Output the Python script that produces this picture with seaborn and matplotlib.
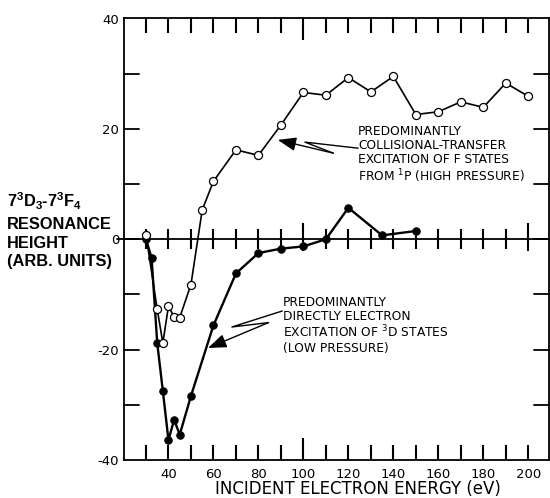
import matplotlib
matplotlib.use("Agg")
import matplotlib.pyplot as plt
import matplotlib.transforms as mtransforms
from matplotlib.ticker import FixedLocator, FuncFormatter
import seaborn as sns

# ---------------- data ----------------
open_energy = [30, 35, 37.5, 40, 42.5, 45, 50, 55, 60, 70, 80, 90, 100, 110,
               120, 130, 140, 150, 160, 170, 180, 190, 200]
open_height = [0.8, -12.7, -18.8, -12.1, -14.1, -14.2, -8.2, 5.3, 10.5, 16.2,
               15.2, 20.7, 26.6, 26.1, 29.3, 26.7, 29.5, 22.6, 23.1, 24.9,
               23.9, 28.3, 25.9]

filled_energy = [30, 32.5, 35, 37.5, 40, 42.5, 45, 50, 60, 70, 80, 90, 100,
                 110, 120, 135, 150]
filled_height = [0, -3.4, -18.8, -27.5, -36.4, -32.7, -35.4, -28.4, -15.6,
                 -6.2, -2.5, -1.7, -1.3, 0, 5.7, 0.7, 1.5]

x_tick_values = list(range(30, 201, 10))
x_tick_labels = [40, 60, 80, 100, 120, 140, 160, 180, 200]
x_long_ticks = [100, 200]
y_tick_values = list(range(-30, 31, 10))
y_tick_labels = [-40, -20, 0, 20, 40]

x_label = "INCIDENT ELECTRON ENERGY (eV)"
y_label_lines = [r"7$^{3}$D$_{3}$-7$^{3}$F$_{4}$", "RESONANCE", "HEIGHT",
                 "(ARB. UNITS)"]

high_text = ("PREDOMINANTLY\nCOLLISIONAL-TRANSFER\nEXCITATION OF F STATES\n"
             "FROM $^{1}$P (HIGH PRESSURE)")
low_text = ("PREDOMINANTLY\nDIRECTLY ELECTRON\nEXCITATION OF $^{3}$D STATES\n"
            "(LOW PRESSURE)")

# annotation geometry (text anchor, zig-zag leader, arrow tip)
high_text_pos = (124.3, 20.7)
high_leader = [(124.3, 16.5), (100.7, 17.6), (113.3, 15.6)]
high_tip = (88.6, 18.0)
low_text_pos = (91.0, -10.2)
low_leader = [(90.6, -13.0), (68.2, -15.9), (84.5, -15.1)]
low_tip = (57.6, -19.7)

# ---------------- style ----------------
sns.set_style("white")
plt.rcParams["font.family"] = ["DejaVu Sans"]
plt.rcParams["mathtext.default"] = "regular"

fig = plt.figure(figsize=(5.5, 4.98), dpi=100)
W, H = 550.0, 498.0
AX_W, AX_H = 425.0, 441.5
ax = fig.add_axes([123.5 / W, 1 - 460 / H, AX_W / W, AX_H / H])

LW = 1.3

sns.lineplot(x=filled_energy, y=filled_height, ax=ax, color="black",
             linewidth=1.7, marker="o", markersize=5.3,
             markerfacecolor="black", markeredgecolor="black",
             markeredgewidth=0.8, estimator=None, sort=False, zorder=3)
sns.lineplot(x=open_energy, y=open_height, ax=ax, color="black",
             linewidth=1.2, marker="o", markersize=5.8,
             markerfacecolor="white", markeredgecolor="black",
             markeredgewidth=0.9, estimator=None, sort=False, zorder=4)

ax.set_xlim(20, 209)
ax.set_ylim(-40, 40)

# zero line
ax.axhline(0, xmin=-0.015, xmax=1, color="black", lw=LW, clip_on=False,
           zorder=2)

# tick labels only (tick marks drawn explicitly below)
ax.xaxis.set_major_locator(FixedLocator(x_tick_labels))
ax.yaxis.set_major_locator(FixedLocator(y_tick_labels))
ax.xaxis.set_major_formatter(FuncFormatter(lambda v, p: str(int(round(v)))))
ax.yaxis.set_major_formatter(FuncFormatter(lambda v, p: str(int(round(v)))))
ax.tick_params(axis="x", length=0, labelsize=9.5, pad=6, colors="black")
ax.tick_params(axis="y", length=0, labelsize=9.5, pad=3, colors="black")
for s in ax.spines.values():
    s.set_color("black")
    s.set_linewidth(LW)

# inward tick marks on all four sides + crossing ticks on the zero line
tx = mtransforms.blended_transform_factory(ax.transData, ax.transAxes)
ty = mtransforms.blended_transform_factory(ax.transAxes, ax.transData)
tick_len_x = 15 / AX_H
tick_len_y = 15 / AX_W
long_len = 22 / AX_H
for v in x_tick_values:
    ln = long_len if v == 100 else tick_len_x
    ax.plot([v, v], [0, ln], transform=tx, color="black", lw=1.5,
            clip_on=False, solid_capstyle="butt")
    ax.plot([v, v], [1 - ln, 1], transform=tx, color="black", lw=1.5,
            clip_on=False, solid_capstyle="butt")
    lo, hi = (-2.2, 3.0) if v in x_long_ticks else (-1.8, 1.8)
    ax.plot([v, v], [lo, hi], color="black", lw=1.5, zorder=2,
            solid_capstyle="butt")
for v in y_tick_values:
    ax.plot([0, tick_len_y], [v, v], transform=ty, color="black", lw=LW,
            clip_on=False)
    ax.plot([1 - tick_len_y, 1], [v, v], transform=ty, color="black", lw=LW,
            clip_on=False)

# x label
ax.set_xlabel(x_label, fontsize=12, color="black", va="center")
ax.xaxis.set_label_coords((357.5 - 123.5) / AX_W, (460 - 489) / AX_H)

# y label as stacked bold lines
baselines = [207, 229, 248, 266]
for line, b in zip(y_label_lines, baselines):
    fig.text(7 / W, 1 - b / H, line, fontsize=11.8, fontweight="bold",
             family=["Liberation Sans", "DejaVu Sans"],
             ha="left", va="baseline", color="black")

# annotations
for txt, pos, leader, tip in [(high_text, high_text_pos, high_leader, high_tip),
                              (low_text, low_text_pos, low_leader, low_tip)]:
    ax.text(pos[0], pos[1], txt, fontsize=8.8, ha="left", va="top",
            linespacing=1.1, color="black")
    ax.plot([p[0] for p in leader], [p[1] for p in leader], color="black",
            lw=1.0)
    ax.annotate("", xy=tip, xytext=leader[-1],
                arrowprops=dict(arrowstyle="-|>,head_length=0.8,head_width=0.3",
                                mutation_scale=14, color="black", lw=1.0,
                                shrinkA=0, shrinkB=0))

fig.savefig("out.png", dpi=100)
